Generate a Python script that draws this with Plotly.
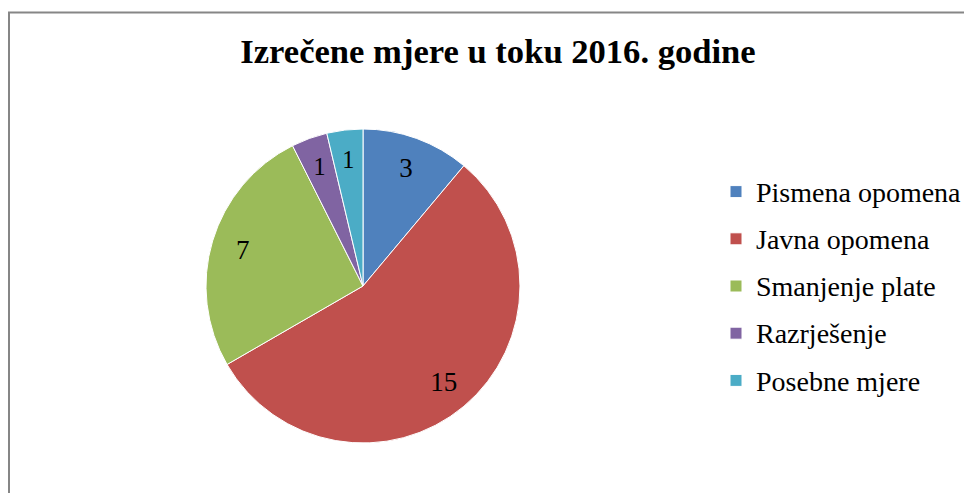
import plotly.graph_objects as go

labels = ["Pismena opomena", "Javna opomena", "Smanjenje plate", "Razrješenje", "Posebne mjere"]
values = [3, 15, 7, 1, 1]
colors = ["#4F81BD", "#C0504D", "#9BBB59", "#8064A2", "#4BACC6"]
title_text = "Izrečene mjere u toku 2016. godine"

W, H = 972, 493
# the page body adds an 8px offset; positions below are in figure pixels
cx, cy, R = 355, 278, 157
dom_x = [(cx - R) / W, (cx + R) / W]
dom_y = [1 - (cy + R) / H, 1 - (cy - R) / H]
r2 = 142
dom_x2 = [(cx - r2) / W, (cx + r2) / W]
dom_y2 = [1 - (cy + r2) / H, 1 - (cy - r2) / H]

serif = "Liberation Serif, Times New Roman, serif"

fig = go.Figure()
# coloured slices
fig.add_trace(go.Pie(
    labels=['<span style="font-size:28px;baseline-shift:3px">%s</span>' % l for l in labels],
    values=values, sort=False, direction="clockwise", rotation=0,
    marker=dict(colors=colors, line=dict(color="white", width=1)),
    textinfo="none", hoverinfo="value", domain=dict(x=dom_x, y=dom_y),
    showlegend=True,
))
# transparent overlay rings used only to place the value labels
big = [str(v) if v > 1 else "" for v in values]
small = [str(v) if v <= 1 else "" for v in values]
for txt, dx, dy in [(big, dom_x, dom_y), (small, dom_x2, dom_y2)]:
    fig.add_trace(go.Pie(
        labels=labels, values=values, text=txt, sort=False, direction="clockwise", rotation=0,
        hole=0.6, marker=dict(colors=["rgba(0,0,0,0)"] * len(values), line=dict(width=0)),
        textinfo="text", textposition="inside", insidetextorientation="horizontal",
        textfont=dict(family=serif, size=27, color="black"),
        hoverinfo="skip", domain=dict(x=dx, y=dy), showlegend=False,
    ))

fig.update_layout(
    width=W, height=H,
    margin=dict(l=0, r=0, t=0, b=0),
    paper_bgcolor="white", plot_bgcolor="white",
    title=dict(text="<b>%s</b>" % title_text, x=490 / W, xanchor="center",
               y=1 - 43 / H, yanchor="middle",
               font=dict(family=serif, size=34.6, color="black")),
    legend=dict(x=708 / W, xanchor="left", y=1 - 155 / H, yanchor="top",
                font=dict(family=serif, size=34, color="black"),
                bgcolor="rgba(0,0,0,0)", tracegroupgap=0),
    shapes=[dict(type="rect", xref="paper", yref="paper",
                 x0=1 / W, x1=1.05, y0=-0.05, y1=1 - 4.5 / H,
                 line=dict(color="#868686", width=2), fillcolor="rgba(0,0,0,0)")],
)

fig.write_html("out.html")
